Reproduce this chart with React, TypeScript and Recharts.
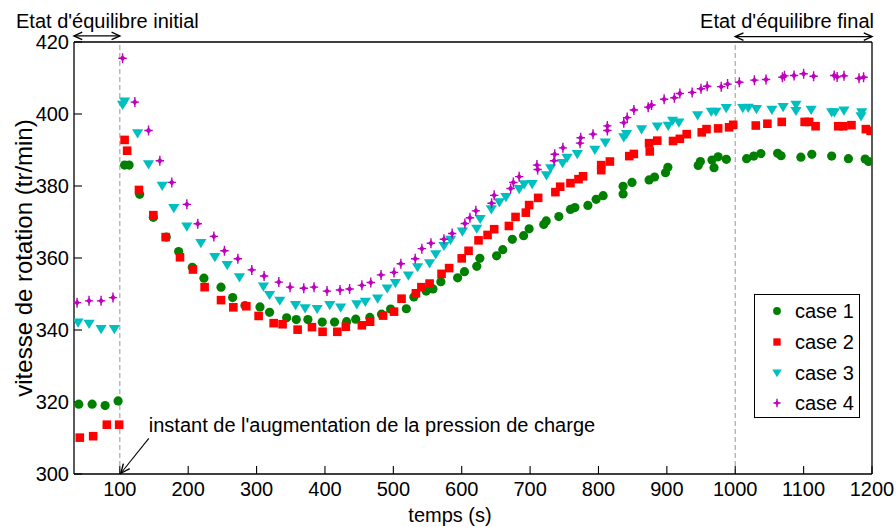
import React from 'react';
import { ScatterChart, Scatter, XAxis, YAxis, ReferenceLine, Legend } from 'recharts';

const FONT = "'Liberation Sans', Arial, Helvetica, sans-serif";

const xTicks = [100, 200, 300, 400, 500, 600, 700, 800, 900, 1000, 1100, 1200];
const yTicks = [300, 320, 340, 360, 380, 400, 420];
const xDomain = [33, 1200];
const yDomain = [300, 420];

const seriesNames = ['case 1', 'case 2', 'case 3', 'case 4'];
const seriesColors = ['#008000', '#ff0000', '#00bfbf', '#bf00bf'];

const case1X = [40, 59.5, 78.5, 97.5, 107, 113.6, 129, 149, 168, 186, 206, 223, 248, 265, 283, 305, 319, 344, 358, 375, 396, 414, 431.6, 445, 465.6, 482.7, 496, 519, 530, 548, 558, 569.5, 594, 604, 622, 626.5, 651, 660, 674, 690.5, 698.6, 720, 723.6, 742, 759, 765.5, 784.5, 796.6, 806.8, 836, 836, 849, 874, 882, 898, 901.5, 945.8, 949, 966, 969, 975, 987, 1016.6, 1027, 1037.5, 1062, 1067, 1096, 1112, 1141, 1165.5, 1190, 1195];
const case1Y = [319.4, 319.4, 319, 320.3, 385.8, 385.8, 377.7, 371.3, 365.8, 361.8, 357.4, 354.4, 351.9, 349, 346.8, 346.4, 344.9, 343.4, 342.9, 342.9, 342.2, 342.2, 342.3, 343, 343.5, 344.4, 345.8, 345.9, 349.2, 350.8, 351.4, 353.4, 354.5, 356.2, 357.7, 359.9, 360.6, 362.3, 365.2, 366.2, 368.1, 369.3, 370.3, 371.5, 373.5, 374, 374.6, 376.3, 377.3, 377.8, 379.9, 381, 381.7, 382.5, 383.7, 385.2, 385.7, 386.8, 387.2, 385.1, 388.1, 387.4, 387.6, 388.3, 389, 389.1, 388.4, 388, 388.8, 388.3, 387.6, 387.5, 386.8];

const case2X = [41.5, 61, 81, 99, 107, 110.7, 128, 149, 167, 188, 207, 224, 248, 266, 285, 303, 325, 338, 360, 381, 396.5, 418, 430.5, 454, 466, 485, 501, 512, 533, 541, 553, 570.5, 581.6, 600, 610, 624.6, 637.8, 647.5, 669, 678.7, 693.8, 698.6, 711.8, 737, 744, 759, 770.8, 777.5, 804, 804, 816.7, 845, 851.7, 874, 875, 886, 909, 919, 929, 951, 958, 975, 991, 997, 1030, 1047, 1068, 1101.5, 1108, 1117.5, 1150.6, 1158, 1170, 1191, 1198];
const case2Y = [310.1, 310.5, 313.7, 313.7, 392.8, 389.8, 378.9, 371.9, 365.8, 360.2, 356.8, 351.9, 348.3, 346.3, 346.6, 343.9, 341.9, 341.6, 340.1, 340.8, 339.5, 339.5, 340.9, 341.3, 342.3, 344, 345.1, 348.7, 350.2, 351.9, 352.9, 355.6, 357.2, 359.9, 362, 364.9, 366.4, 368, 368.9, 371.4, 372.6, 374.7, 376.7, 378.3, 379.8, 380.8, 381.9, 382.7, 384.4, 385.8, 386.8, 388.3, 388.9, 391.9, 389.6, 392.6, 392.5, 393.1, 394.4, 394.9, 395.8, 396, 396.3, 397, 396.8, 397.3, 397.8, 397.8, 397.8, 396.6, 396.6, 396.6, 396.9, 395.8, 395.3];

const case3X = [39, 55, 72.6, 92, 104, 107, 126, 142, 162, 179, 198, 218.5, 239, 257, 275, 310, 319, 334, 357, 371, 388.6, 407, 423, 446.6, 459, 477, 491, 503, 522, 535.4, 553, 562, 574, 583.7, 601, 622, 627, 643.3, 655, 664.6, 684, 691.4, 703, 724, 730, 747.4, 754, 769, 794.7, 810, 837, 841, 863, 886, 902, 908.4, 917.6, 945, 965, 971.7, 986.8, 1011, 1019, 1031, 1053.6, 1070, 1088.8, 1088.8, 1111, 1141, 1145, 1159, 1185, 1184];
const case3Y = [342, 341.7, 340.2, 340.2, 402.5, 403.4, 394.6, 386, 380, 373.8, 368.7, 364.1, 360.2, 358, 354.6, 352, 349.7, 348.1, 346.9, 346, 345.8, 346.9, 346.2, 347.1, 347.8, 348.7, 351.5, 353, 355.1, 357.4, 358.5, 361, 363.3, 365, 367.3, 368.1, 370.8, 373.5, 375.4, 376.9, 379.1, 380.4, 380.5, 382.9, 384.9, 386.3, 387.8, 388.8, 390, 392, 393.5, 394.4, 395.7, 396.5, 396.7, 398.1, 397.6, 399.6, 400.6, 400.6, 401.6, 401.6, 401.7, 401.3, 401.1, 401.9, 402.5, 400.8, 401.1, 400.4, 400.4, 400.9, 400.4, 399.3];

const case4X = [37.5, 55, 72.6, 90, 104, 122, 142, 158.5, 176, 198, 214, 237.5, 253, 272.6, 293, 311, 332.5, 349, 369, 384, 403, 422, 436, 454, 467, 482, 501, 511, 532, 541.7, 555, 574, 586, 604.6, 612, 620.7, 643.7, 647.5, 671.5, 675.5, 684, 710, 711, 735, 736, 748, 773, 774, 792, 813, 813, 837, 842, 851.8, 872.7, 877.6, 896, 911, 919, 937, 949.9, 959, 979.5, 988.8, 1006, 1028, 1045, 1069, 1072, 1086, 1100, 1114.6, 1144.7, 1149, 1159, 1181, 1187.7];
const case4Y = [347.6, 348.1, 348.1, 349, 415.5, 403.3, 395.4, 387, 381, 374.9, 369.5, 366, 362, 359.8, 356.7, 355, 353.3, 351.9, 351.6, 351.9, 350.8, 351.1, 351.4, 352.4, 353.2, 355.3, 356, 358.4, 359.8, 362.6, 364.1, 365.2, 366.8, 369.6, 371.2, 373.1, 375.2, 377.4, 379.3, 381, 382.6, 385.8, 384.6, 387, 388.8, 390.6, 391.9, 393.4, 394.4, 395.4, 396.7, 397.6, 399, 401.1, 401.9, 402.5, 404.1, 404.5, 405.7, 406, 407, 407.7, 407.6, 408.3, 408.8, 409.4, 409.6, 410.2, 410.6, 410.7, 411.2, 410.5, 410.7, 410.3, 410.6, 409.9, 410.2];

const annotationTexts = [
  "Etat d'équilibre initial",
  "Etat d'équilibre final",
  "instant de l'augmentation de la pression de charge",
];

const zip = (xs: number[], ys: number[]) => xs.map((x, i) => ({ x, y: ys[i] }));

const data1 = zip(case1X, case1Y);
const data2 = zip(case2X, case2Y);
const data3 = zip(case3X, case3Y);
const data4 = zip(case4X, case4Y);

const drawMarker = (i: number, cx: number, cy: number, k = 1) => {
  const c = seriesColors[i];
  if (i === 0) return <circle cx={cx} cy={cy} r={4.6 * k} fill={c} />;
  if (i === 1) return <rect x={cx - 4.3 * k} y={cy - 4.3 * k} width={8.6 * k} height={8.6 * k} fill={c} />;
  if (i === 2)
    return (
      <path
        d={`M${cx - 5.6 * k},${cy - 4.2 * k} L${cx + 5.6 * k},${cy - 4.2 * k} L${cx},${cy + 5 * k} Z`}
        fill={c}
      />
    );
  return (
    <g>
      <path
        d={`M${cx},${cy - 5 * k} L${cx},${cy + 5 * k} M${cx - 4.2 * k},${cy} L${cx + 4.2 * k},${cy}`}
        stroke={c}
        strokeWidth={1.4}
      />
      <path
        d={`M${cx},${cy - 3.2 * k} L${cx + 2.8 * k},${cy} L${cx},${cy + 3.2 * k} L${cx - 2.8 * k},${cy} Z`}
        fill={c}
      />
    </g>
  );
};

const makeShape = (i: number) => (p: any) => drawMarker(i, p.cx, p.cy);

const head = (x: number, y: number, ang: number, size = 9) => {
  const a1 = ang + Math.PI - 0.42;
  const a2 = ang + Math.PI + 0.42;
  return `M${x + size * Math.cos(a1)},${y + size * Math.sin(a1)} L${x},${y} L${x + size * Math.cos(a2)},${y + size * Math.sin(a2)}`;
};

const makeArrow =
  (opts: { double: boolean; text: string; ref: 1 | 2; dx: number; dy: number; anchor: 'start' | 'end'; size?: number }) =>
  (p: any) => {
    const x1 = Number(p.x1), y1 = Number(p.y1), x2 = Number(p.x2), y2 = Number(p.y2);
    const ang = Math.atan2(y2 - y1, x2 - x1);
    const rx = opts.ref === 1 ? x1 : x2;
    const ry = opts.ref === 1 ? y1 : y2;
    return (
      <g>
        <line x1={x1} y1={y1} x2={x2} y2={y2} stroke="#000" strokeWidth={1.1} />
        <path d={head(x2, y2, ang, opts.size)} fill="none" stroke="#000" strokeWidth={1.4} />
        {opts.double && <path d={head(x1, y1, ang + Math.PI, opts.size)} fill="none" stroke="#000" strokeWidth={1.4} />}
        <text x={rx + opts.dx} y={ry + opts.dy} textAnchor={opts.anchor} fontSize={20} fontFamily={FONT} fill="#000">
          {opts.text}
        </text>
      </g>
    );
  };

const LegendBox = () => (
  <div
    style={{
      border: '1px solid #000',
      background: '#fff',
      width: 106,
      height: 124,
      boxSizing: 'border-box',
      paddingTop: 1,
      fontFamily: FONT,
      fontSize: 20,
      color: '#000',
    }}
  >
    {seriesNames.map((n, i) => (
      <div key={n} style={{ display: 'flex', alignItems: 'center', height: 30.7 }}>
        <svg width={40} height={20} style={{ display: 'block' }}>
          {drawMarker(i, 22, 10, 0.85)}
        </svg>
        <span style={{ lineHeight: '20px' }}>{n}</span>
      </div>
    ))}
  </div>
);

const axisLine = { stroke: '#000', strokeWidth: 1.3 };
const tickLine = { stroke: '#000', strokeWidth: 1.1 };
const tickStyle = { fill: '#000', fontSize: 20, fontFamily: FONT };

export default function App() {
  return (
    <div style={{ position: 'absolute', left: 0, top: 0, width: 896, height: 527, background: '#fff', fontFamily: FONT }}>
      <ScatterChart width={896} height={527} margin={{ top: 40, right: 16, bottom: 0, left: 0 }}>
        <XAxis
          xAxisId={0}
          dataKey="x"
          type="number"
          domain={xDomain}
          ticks={xTicks}
          allowDataOverflow
          height={53}
          axisLine={axisLine}
          tickLine={tickLine}
          tickSize={-8}
          tickMargin={16}
          tick={tickStyle}
          label={{ value: 'temps (s)', position: 'insideBottom', offset: 5, dx: -23, style: { fill: '#000', fontSize: 20, fontFamily: FONT } }}
        />
        <XAxis
          xAxisId="top"
          orientation="top"
          type="number"
          domain={xDomain}
          ticks={xTicks}
          allowDataOverflow
          height={2}
          axisLine={axisLine}
          tickLine={tickLine}
          tickSize={-8}
          tick={false}
        />
        <YAxis
          yAxisId={0}
          dataKey="y"
          type="number"
          domain={yDomain}
          ticks={yTicks}
          allowDataOverflow
          width={74}
          axisLine={axisLine}
          tickLine={tickLine}
          tickSize={-8}
          tickMargin={13}
          tick={tickStyle}
          label={{
            value: 'vitesse de rotation (tr/min)',
            angle: -90,
            position: 'insideLeft',
            offset: 23,
            style: { textAnchor: 'middle', fill: '#000', fontSize: 24, fontFamily: FONT },
          }}
        />
        <YAxis
          yAxisId="right"
          orientation="right"
          type="number"
          domain={yDomain}
          ticks={yTicks}
          allowDataOverflow
          width={8}
          axisLine={axisLine}
          tickLine={tickLine}
          tickSize={-8}
          tick={false}
        />
        <ReferenceLine x={100} stroke="#a8a8a8" strokeWidth={1.2} strokeDasharray="5 3" />
        <ReferenceLine x={1000} stroke="#a8a8a8" strokeWidth={1.2} strokeDasharray="5 3" />
        <Scatter name={seriesNames[0]} data={data1} shape={makeShape(0)} isAnimationActive={false} />
        <Scatter name={seriesNames[1]} data={data2} shape={makeShape(1)} isAnimationActive={false} />
        <Scatter name={seriesNames[2]} data={data3} shape={makeShape(2)} isAnimationActive={false} />
        <Scatter name={seriesNames[3]} data={data4} shape={makeShape(3)} isAnimationActive={false} />
        <ReferenceLine
          segment={[{ x: 33, y: 421.7 }, { x: 100, y: 421.7 }]}
          ifOverflow="visible"
          shape={makeArrow({ double: true, text: annotationTexts[0], ref: 1, dx: -58, dy: -8, anchor: 'start' })}
        />
        <ReferenceLine
          segment={[{ x: 1000, y: 421.5 }, { x: 1200, y: 421.5 }]}
          ifOverflow="visible"
          shape={makeArrow({ double: true, text: annotationTexts[1], ref: 2, dx: 2, dy: -9, anchor: 'end' })}
        />
        <ReferenceLine
          segment={[{ x: 142.4, y: 309.9 }, { x: 101.5, y: 300.2 }]}
          ifOverflow="visible"
          shape={makeArrow({ double: false, text: annotationTexts[2], ref: 1, dx: 0, dy: -6.6, anchor: 'start', size: 10 })}
        />
        <Legend
          layout="vertical"
          align="center"
          verticalAlign="middle"
          content={() => <LegendBox />}
          wrapperStyle={{ left: 754, top: 294, width: 106, height: 124 }}
        />
      </ScatterChart>
    </div>
  );
}
